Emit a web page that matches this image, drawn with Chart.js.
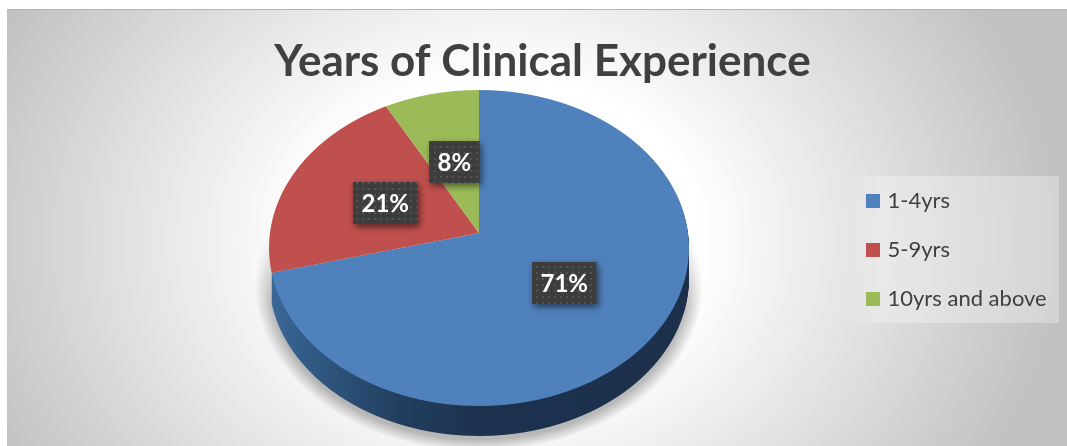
<!DOCTYPE html>
<html>
<head>
<meta charset="utf-8">
<script src="https://cdn.jsdelivr.net/npm/chart.js@4/dist/chart.umd.min.js"></script>
<style>
html, body { margin: 0; padding: 0; background: #fff; }
#wrap { width: 1067px; height: 446px; position: relative; }
</style>
</head>
<body>
<div id="wrap"><canvas id="chart" width="1067" height="446"></canvas></div>
<script>
const chartTitle = "Years of Clinical Experience";
const categories = ["1-4yrs", "5-9yrs", "10yrs and above"];
const shareValues = [71, 21, 8];
const sliceColors = ["#4f81bd", "#c0504d", "#9bbb59"];

//the pie is a tilted disc, so the top surface is drawn through a perspective mapping
const DISC = {x: 479, apexY: 233, topY: 90, bottomY: 406, halfWidth: 209, depth: 30};
const upper = DISC.apexY - DISC.topY;
const lower = DISC.bottomY - DISC.apexY;
const tilt = (upper - lower) / (upper + lower);
const spread = upper * (1 - tilt);

/** source height on the disc (-1 to 1) for a picture y */
function discU(y) {
    let v = y - DISC.apexY;
    return v / (spread - tilt * v);
}

function projectPoint(dx, u) {
    let w = 1 + tilt * u;
    return {x: DISC.x + DISC.halfWidth * dx / w, y: DISC.apexY + spread * u / w};
}

/** draw an arc element strip by strip, so each row gets its own perspective scale */
function drawTilted(ctx, arc, shift) {
    let R = arc.outerRadius;
    for(let y = DISC.topY - 1; y <= DISC.bottomY; y++) {
        let u0 = Math.max(discU(y), -1.02);
        let u1 = discU(y + 1);
        let mid = (u0 + u1) / 2;
        let a = DISC.halfWidth / R / (1 + tilt * mid);
        let d = 1 / ((u1 - u0) * R);
        ctx.save();
        ctx.beginPath();
        ctx.rect(0, y + shift, 1067, 1);
        ctx.clip();
        ctx.transform(a, 0, 0, d, DISC.x - a * arc.x, y + shift - d * (arc.y + u0 * R));
        arc.draw(ctx);
        ctx.restore();
    }
}

function dotPattern(ctx) {
    let tile = document.createElement("canvas");
    tile.width = 6;
    tile.height = 6;
    let t = tile.getContext("2d");
    t.fillStyle = "#3d3d3d";
    t.fillRect(0, 0, 6, 6);
    t.fillStyle = "#525252";
    t.fillRect(2, 2, 2, 2);
    return ctx.createPattern(tile, "repeat");
}

/** grey halo behind the disc, fading out towards the top */
function discShadow() {
    let layer = document.createElement("canvas");
    layer.width = 1067;
    layer.height = 446;
    let s = layer.getContext("2d");
    s.save();
    s.translate(DISC.x, 285);
    s.scale(224, 166);
    let halo = s.createRadialGradient(0, 0, 0.93, 0, 0, 1);
    halo.addColorStop(0, "rgba(0,0,0,0.26)");
    halo.addColorStop(1, "rgba(0,0,0,0)");
    s.fillStyle = halo;
    s.beginPath();
    s.arc(0, 0, 1, 0, Math.PI * 2);
    s.fill();
    s.restore();
    let mask = s.createLinearGradient(0, 225, 0, 305);
    mask.addColorStop(0, "rgba(0,0,0,0)");
    mask.addColorStop(1, "rgba(0,0,0,1)");
    s.globalCompositeOperation = "destination-in";
    s.fillStyle = mask;
    s.fillRect(0, 0, 1067, 446);
    return layer;
}

const backdropPlugin = {
    id: "backdrop",
    afterLayout(chart) {
        //legend sits in its own panel, not where the layout puts it
        chart.legend.left = 842.5;
        chart.legend.top += 45;
        chart.legend.bottom += 45;
    },
    beforeDraw(chart) {
        let ctx = chart.ctx;
        ctx.save();
        ctx.fillStyle = "#ffffff";
        ctx.fillRect(0, 0, 1067, 446);
        ctx.save();
        ctx.beginPath();
        ctx.rect(7, 9, 1060, 437);
        ctx.clip();
        ctx.translate(500, 240);
        ctx.scale(570, 460);
        let grad = ctx.createRadialGradient(0, 0, 0.35, 0, 0, 1);
        grad.addColorStop(0, "#ffffff");
        grad.addColorStop(1, "#c0c0c0");
        ctx.fillStyle = grad;
        ctx.fillRect(-2, -2, 4, 4);
        ctx.restore();
        ctx.fillStyle = "#b5b5b5";
        ctx.fillRect(7, 9, 1060, 1);
        //legend panel
        let panel = ctx.createLinearGradient(850, 0, 880, 0);
        panel.addColorStop(0, "rgba(255,255,255,0)");
        panel.addColorStop(1, "rgba(255,255,255,0.3)");
        ctx.fillStyle = panel;
        ctx.fillRect(850, 176, 209, 147);
        ctx.restore();
    }
};

const discPlugin = {
    id: "tiltedDisc",
    beforeDatasetDraw(chart) {
        let ctx = chart.ctx;
        let arcs = chart.getDatasetMeta(0).data;
        let R = arcs[0].outerRadius;

        ctx.drawImage(discShadow(), 0, 0);

        //side wall, from the first slice moved downwards
        let toSource = x => arcs[0].x + (x - DISC.x) * R / DISC.halfWidth;
        let wallGrad = ctx.createLinearGradient(toSource(272), 0, toSource(688), 0);
        wallGrad.addColorStop(0, "#3d6a9b");
        wallGrad.addColorStop(0.14, "#2f5780");
        wallGrad.addColorStop(0.32, "#233f60");
        wallGrad.addColorStop(0.5, "#1d324e");
        wallGrad.addColorStop(1, "#1c304b");
        let wall = Object.create(arcs[0]);
        wall.options = {backgroundColor: wallGrad, borderWidth: 0, borderColor: wallGrad, offset: 0, spacing: 0, borderRadius: 0, borderAlign: "center", circular: true};
        for(let shift = DISC.depth; shift >= 1; shift--) {
            drawTilted(ctx, wall, shift);
        }

        arcs.forEach(arc => drawTilted(ctx, arc, 0));
        return false;
    },
    afterDatasetsDraw(chart) {
        let ctx = chart.ctx;
        let arcs = chart.getDatasetMeta(0).data;
        let total = shareValues.reduce((a, b) => a + b, 0);
        let pattern = dotPattern(ctx);
        arcs.forEach((arc, i) => {
            let angle = (arc.startAngle + arc.endAngle) / 2;
            let pos = projectPoint(Math.cos(angle) * 0.5, Math.sin(angle) * 0.5);
            let text = Math.round(shareValues[i] / total * 100) + "%";
            ctx.save();
            ctx.font = "bold 24px Lato";
            let w = ctx.measureText(text).width + 17;
            let h = 42;
            let bx = Math.round(pos.x - w / 2);
            let by = Math.round(pos.y - h / 2 + 1);
            ctx.shadowColor = "rgba(0,0,0,0.55)";
            ctx.shadowBlur = 7;
            ctx.shadowOffsetX = 2;
            ctx.shadowOffsetY = 3;
            ctx.fillStyle = pattern;
            ctx.fillRect(bx, by, w, h);
            ctx.shadowColor = "transparent";
            ctx.fillStyle = "#ffffff";
            ctx.textAlign = "center";
            ctx.textBaseline = "middle";
            ctx.fillText(text, bx + w / 2, by + h / 2 + 1);
            ctx.restore();
        });
    }
};

new Chart(document.getElementById("chart"), {
    type: "pie",
    data: {
        labels: categories,
        datasets: [{
            data: shareValues,
            backgroundColor: sliceColors,
            borderWidth: 0
        }]
    },
    options: {
        responsive: false,
        animation: false,
        layout: {padding: {left: 18, right: 0, top: 0, bottom: 36}},
        plugins: {
            title: {
                display: true,
                text: chartTitle,
                color: "#404040",
                font: {family: "Lato", size: 44, weight: "bold"},
                padding: {top: 35, bottom: 8}
            },
            legend: {
                position: "right",
                labels: {
                    color: "#404040",
                    font: {family: "Lato", size: 22},
                    //narrow box plus a thick border, so the text sits close to the swatch
                    boxWidth: 7,
                    boxHeight: 7,
                    padding: 27,
                    generateLabels(chart) {
                        let items = Chart.overrides.pie.plugins.legend.labels.generateLabels(chart);
                        items.forEach(item => {
                            item.strokeStyle = item.fillStyle;
                            item.lineWidth = 7;
                        });
                        return items;
                    }
                }
            },
            tooltip: {enabled: false}
        }
    },
    plugins: [backdropPlugin, discPlugin]
});
</script>
</body>
</html>
